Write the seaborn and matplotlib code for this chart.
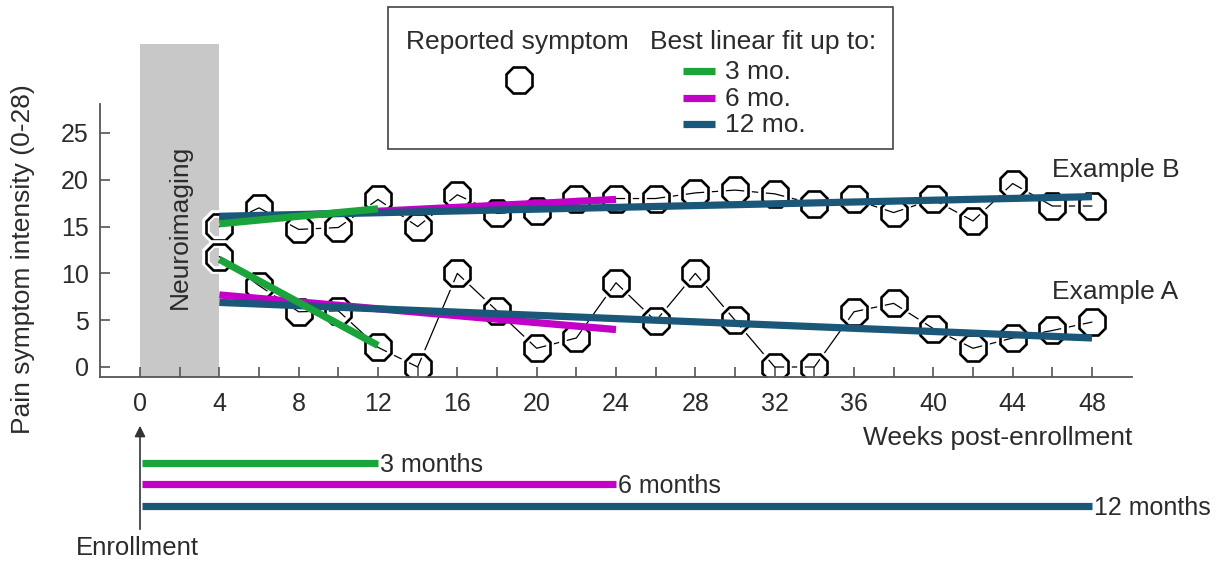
import numpy as np
import pandas as pd
import matplotlib
matplotlib.use('Agg')
import matplotlib.pyplot as plt
import seaborn as sns
from matplotlib.patches import Rectangle

# data
weeks = list(range(4, 50, 2))
pain_b = [15.0, 17.0, 14.7, 14.9, 17.9, 15.0, 18.4, 16.4, 16.7, 18.0, 18.0, 18.0,
          18.6, 18.9, 18.5, 17.4, 17.9, 16.5, 17.9, 15.6, 19.6, 17.2, 17.2]
pain_a = [11.8, 8.7, 5.9, 6.0, 2.1, 0.0, 10.0, 6.0, 2.0, 3.1, 9.0, 4.9,
          10.0, 5.0, 0.0, 0.0, 5.9, 6.8, 4.1, 2.0, 3.1, 3.9, 4.8]

fit_labels = ['3 mo.', '6 mo.', '12 mo.']
fit_months = ['3 months', '6 months', '12 months']
fit_start_week = 4
fit_end_week = [12, 24, 48]
fit_b_start = [15.3, 15.8, 16.1]
fit_b_end = [16.9, 17.9, 18.2]
fit_a_start = [11.5, 7.7, 6.9]
fit_a_end = [2.3, 4.0, 3.1]
fit_colors = ['#1ba33c', '#c200c8', '#1b5778']

x_ticks = list(range(0, 49, 4))
y_ticks = list(range(0, 26, 5))

sns.set_theme(style='white')
plt.rcParams['font.family'] = ['Liberation Sans', 'DejaVu Sans']
txt = '#2b2b2b'
axc = '#555555'
fs = 19
ms = 21

W, H = 1224, 564
fig = plt.figure(figsize=(W / 100, H / 100), dpi=100)

# pixel layout of the main panel
px0, px48 = 140, 1092
py0, py25 = 367, 133
sx = (px48 - px0) / 48
sy = (py0 - py25) / 25
ax = fig.add_axes([100 / W, 1 - 377 / H, (1132 - 100) / W, (377 - 44) / H])
ax.set_xlim((100 - px0) / sx, (1132 - px0) / sx)
ax.set_ylim(-(377 - py0) / sy, (py0 - 44) / sy)

# neuroimaging window
ax.axvspan(0, 4, color='#c8c8c8', lw=0, zorder=0)
ax.text(2, 15, 'Neuroimaging', rotation=90, ha='center', va='center',
        fontsize=fs, color=txt)

for vals in [pain_b, pain_a]:
    sns.lineplot(x=weeks, y=vals, color='black', lw=0.9, ax=ax, zorder=2)
    sns.lineplot(x=weeks, y=vals, marker='8', markersize=ms, linestyle='none',
                 markerfacecolor='none', markeredgecolor='white',
                 markeredgewidth=5.5, ax=ax, zorder=2)
    sns.lineplot(x=weeks, y=vals, marker='8', markersize=ms, linestyle='none',
                 markerfacecolor='none', markeredgecolor='black',
                 markeredgewidth=1.9, ax=ax, zorder=2)

# best linear fits (magenta, blue, then green on top)
for i in [1, 2, 0]:
    for s, e in [(fit_b_start[i], fit_b_end[i]), (fit_a_start[i], fit_a_end[i])]:
        sns.lineplot(x=[fit_start_week, fit_end_week[i]], y=[s, e],
                     color=fit_colors[i], lw=5.2, ax=ax, zorder=3,
                     solid_capstyle='butt')

ax.text(46.0, 21.0, 'Example B', fontsize=fs, color=txt, va='center')
ax.text(46.0, 8.0, 'Example A', fontsize=fs, color=txt, va='center')

for sp in ['top', 'right']:
    ax.spines[sp].set_visible(False)
for sp in ['left', 'bottom']:
    ax.spines[sp].set_color(axc)
    ax.spines[sp].set_linewidth(1.3)
ax.spines['left'].set_bounds(ax.get_ylim()[0], (py0 - 104) / sy)

ax.set_xticks(x_ticks)
ax.set_xticks(list(range(0, 49, 2)), minor=True)
ax.set_yticks(y_ticks)
ax.tick_params(axis='both', which='both', direction='in', length=7.5,
               width=1.2, color=axc, labelsize=fs - 1, labelcolor=txt)
ax.tick_params(axis='x', which='both', bottom=True, pad=11)
ax.tick_params(axis='y', left=True, pad=8)
ax.set_xlabel('Weeks post-enrollment', loc='right', fontsize=fs, color=txt,
              labelpad=7)
fig.text(23 / W, 1 - 259 / H, 'Pain symptom intensity (0-28)', rotation=90,
         ha='center', va='center', fontsize=fs, color=txt)

# timeline panel below (y in pixels)
ax2 = fig.add_axes([100 / W, 0, (1132 - 100) / W, 164 / H])
ax2.set_xlim(ax.get_xlim())
ax2.set_ylim(564, 400)
ax2.axis('off')
ax2.annotate('', xy=(0, 423), xytext=(0, 532),
             arrowprops=dict(arrowstyle='-|>', color='#333333', lw=1.2,
                             mutation_scale=16))
ax2.text(-0.15, 548, 'Enrollment', ha='center', va='center', fontsize=fs - 0.5,
         color=txt)
lane_y = [463, 484, 506]
for i in range(3):
    ax2.hlines(lane_y[i], 0.1, fit_end_week[i], color=fit_colors[i], lw=5.2)
    ax2.text(fit_end_week[i] + 0.1, lane_y[i] + 2, fit_months[i], ha='left',
             va='center', fontsize=fs - 1, color=txt)

# legend box
lg = fig.add_axes([0, 0, 1, 1])
lg.set_xlim(0, W)
lg.set_ylim(H, 0)
lg.axis('off')
lg.add_patch(Rectangle((388, 7), 505, 142, fill=False, ec='#444444', lw=1.2))
lg.text(406, 42, 'Reported symptom', ha='left', va='center', fontsize=fs,
        color=txt)
lg.text(650, 42, 'Best linear fit up to:', ha='left', va='center', fontsize=fs,
        color=txt)
lg.plot([519], [80], marker='8', markersize=ms, mfc='none', mec='black',
        mew=1.9, linestyle='none')
leg_y = [71, 98, 124]
for i in range(3):
    lg.plot([683, 715], [leg_y[i], leg_y[i]], color=fit_colors[i], lw=5.2,
            solid_capstyle='butt')
    lg.text(725, leg_y[i] + 1, fit_labels[i], ha='left', va='center',
            fontsize=fs, color=txt)

fig.savefig('out.png', dpi=100)
